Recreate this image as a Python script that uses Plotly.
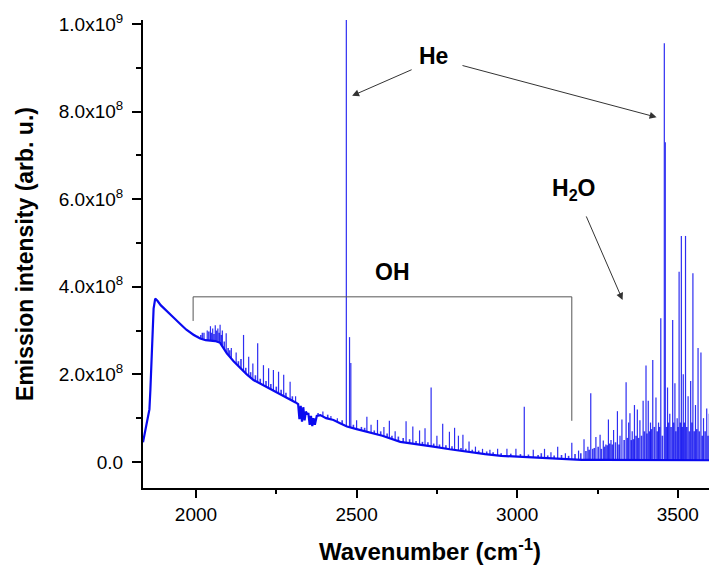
import plotly.graph_objects as go

# ---- continuum (baseline): wavenumber (cm-1), intensity (x1e8)
base_x = [1835, 1842, 1850, 1855, 1858, 1863, 1868, 1873, 1880, 1890, 1910, 1930, 1951,
          1970, 1993, 2013, 2030, 2044, 2060, 2075, 2085, 2096, 2117, 2138, 2158, 2179,
          2210, 2241, 2270, 2293, 2310, 2318, 2322, 2326, 2330, 2334, 2338, 2342, 2346,
          2350, 2354, 2358, 2362, 2366, 2370, 2376, 2387, 2405, 2428, 2450, 2470, 2500,
          2532, 2580, 2636, 2690, 2739, 2790, 2842, 2900, 2950, 3000, 3050, 3100, 3154,
          3200, 3258, 3320, 3400, 3500, 3600]
base_y = [0.45, 0.70, 0.95, 1.20, 1.65, 2.70, 3.50, 3.73, 3.68, 3.58, 3.45, 3.30, 3.15,
          3.02, 2.90, 2.82, 2.78, 2.77, 2.76, 2.72, 2.60, 2.48, 2.30, 2.14, 2.00, 1.87,
          1.75, 1.64, 1.52, 1.42, 1.36, 1.32, 0.98, 1.28, 0.92, 1.25, 0.95, 1.15, 1.10,
          1.10, 0.85, 1.05, 0.82, 1.00, 0.85, 1.05, 1.07, 1.00, 0.96, 0.88, 0.81, 0.75,
          0.69, 0.60, 0.46, 0.41, 0.35, 0.29, 0.235, 0.18, 0.14, 0.12, 0.10, 0.08, 0.06,
          0.05, 0.05, 0.05, 0.05, 0.04, 0.04]

# ---- emission lines: position (cm-1) and peak intensity (x1e8)
line_x = [2025, 2035, 2045, 2052, 2060, 2068, 2075, 2082, 2094, 2110, 2125, 2148, 2164,
          2177, 2192, 2210, 2226, 2241, 2257, 2273, 2293, 2310, 2395, 2420, 2440,
          2468, 2478, 2482, 2500, 2532, 2545, 2565, 2585, 2602, 2620, 2654, 2675, 2696,
          2713, 2732, 2750, 2768, 2789, 2805, 2817, 2831, 2850, 2870, 2892, 2915, 2939,
          2968, 2996, 3022, 3050, 3085, 3105, 3126, 3150, 3170, 3191, 3208, 3220, 3229,
          3245, 3258, 3268, 3276, 3284, 3292, 3300, 3312, 3320, 3326, 3339, 3347, 3351,
          3358, 3365, 3374, 3382, 3392, 3401, 3408, 3415, 3422, 3432, 3440, 3447, 3458,
          3461, 3468, 3475, 3484, 3491, 3498, 3504, 3511, 3517, 3524, 3532, 3540, 3547,
          3555, 3563, 3572, 3580, 3590, 3598]
line_y = [2.95, 3.00, 3.10, 3.05, 3.12, 3.05, 3.13, 3.00, 2.94, 2.60, 2.50, 2.90, 2.40,
          2.25, 2.71, 2.21, 2.14, 2.10, 2.06, 1.99, 1.83, 1.50, 1.15, 1.05, 1.00,
          10.30, 2.85, 2.26, 0.95, 1.03, 0.85, 0.96, 0.80, 0.94, 0.70, 0.93, 0.81, 0.72,
          0.77, 1.70, 0.60, 0.87, 0.69, 0.78, 0.60, 0.62, 0.47, 0.35, 0.30, 0.28, 0.30,
          0.30, 0.30, 1.26, 0.28, 0.30, 0.22, 0.35, 0.20, 0.44, 0.26, 0.52, 0.35, 1.57,
          0.57, 0.62, 0.49, 0.40, 0.97, 0.50, 0.73, 1.16, 0.60, 0.97, 1.82, 0.90, 1.11,
          0.70, 1.30, 1.20, 0.95, 1.40, 2.20, 1.40, 0.90, 2.33, 1.47, 0.90, 3.28, 9.56,
          7.30, 1.70, 1.10, 3.24, 1.80, 1.00, 4.34, 5.16, 2.00, 5.16, 1.50, 1.85, 4.31,
          1.30, 2.60, 2.50, 1.00, 1.22, 1.10]

# ---- weaker lines ("grass") on the continuum: position (cm-1), peak (x1e8)
weak_x = [1995, 2005, 2015, 2020, 2040, 2048, 2056, 2064, 2072, 2079, 2088, 2100, 2105,
          2132, 2140, 2155, 2170, 2185, 2200, 2218, 2233, 2250, 2265, 2280, 2300, 2380,
          2410, 2455, 2490, 2515, 2525, 2555, 2575, 2595, 2610, 2630, 2645, 2665, 2685,
          2705, 2722, 2740, 2758, 2778, 2797, 2825, 2840, 2860, 2880, 2905, 2925, 2950,
          2980, 3010, 3035, 3065, 3075, 3095, 3115, 3138, 3160, 3180, 3198, 3214, 3224,
          3235, 3240, 3252, 3262, 3272, 3280, 3288, 3296, 3306, 3317, 3333, 3343, 3355,
          3362, 3370, 3378, 3387, 3396, 3404, 3412, 3418, 3427, 3436, 3443, 3452, 3465,
          3471, 3479, 3487, 3494, 3501, 3508, 3514, 3520, 3528, 3536, 3544, 3551, 3559,
          3567, 3576, 3585, 3594]
weak_y = [2.92, 2.88, 2.90, 2.95, 2.98, 2.95, 2.92, 3.00, 2.95, 2.90, 2.75, 2.60, 2.55,
          2.30, 2.35, 2.15, 2.05, 1.98, 1.90, 1.85, 1.78, 1.72, 1.65, 1.58, 1.50, 1.12,
          1.08, 0.95, 0.85, 0.80, 0.78, 0.72, 0.70, 0.65, 0.60, 0.58, 0.55, 0.52, 0.48,
          0.46, 0.45, 0.42, 0.40, 0.38, 0.36, 0.32, 0.30, 0.28, 0.26, 0.24, 0.22, 0.20,
          0.19, 0.18, 0.17, 0.16, 0.20, 0.15, 0.15, 0.16, 0.14, 0.18, 0.20, 0.25, 0.28,
          0.30, 0.32, 0.35, 0.30, 0.35, 0.38, 0.42, 0.40, 0.45, 0.40, 0.50, 0.55, 0.50,
          0.52, 0.60, 0.55, 0.60, 0.70, 0.65, 0.70, 0.75, 0.80, 0.70, 0.80, 0.60, 0.80,
          0.90, 0.80, 0.90, 0.70, 0.80, 0.90, 0.80, 0.90, 0.80, 0.70, 0.90, 0.70, 0.75,
          0.70, 0.60, 0.70, 0.60]

SCALE = 1e8
y_tick_vals = [0, 2e8, 4e8, 6e8, 8e8, 1e9]
y_tick_text = ["0.0", "2.0x10<sup>8</sup>", "4.0x10<sup>8</sup>", "6.0x10<sup>8</sup>",
               "8.0x10<sup>8</sup>", "1.0x10<sup>9</sup>"]
y_minor_vals = [1e8, 3e8, 5e8, 7e8, 9e8]
x_tick_vals = [2000, 2500, 3000, 3500]
x_minor_vals = [2250, 2750, 3250]

BLUE = "#0a0af0"


def sticks(xs, ys):
    px, py = [], []
    for xv, yv in zip(xs, ys):
        px += [xv, xv, None]
        py += [0, yv * SCALE, None]
    return px, py


fig = go.Figure()
wx, wy = sticks(weak_x, weak_y)
fig.add_trace(go.Scatter(x=wx, y=wy, mode="lines", line=dict(color=BLUE, width=1.6),
                         opacity=0.8, hoverinfo="skip", showlegend=False))
sx, sy = sticks(line_x, line_y)
fig.add_trace(go.Scatter(x=sx, y=sy, mode="lines", line=dict(color=BLUE, width=1.2),
                         opacity=0.85, hoverinfo="skip", showlegend=False))
# continuum, filled white below so the sticks only show above it
fig.add_trace(go.Scatter(x=base_x, y=[v * SCALE for v in base_y], mode="lines",
                         line=dict(color=BLUE, width=2.2), fill="tozeroy",
                         fillcolor="white", showlegend=False))

FONT = "Arial, Liberation Sans, sans-serif"
# the page body adds an 8 px offset on the left and top
fig.update_layout(
    width=709, height=557,
    margin=dict(l=135, r=0, t=12, b=77),
    paper_bgcolor="white", plot_bgcolor="white",
    font=dict(family=FONT, color="black", size=19),
    showlegend=False,
    xaxis=dict(range=[1835, 3622], showgrid=False, zeroline=False, automargin=False,
               showline=True, linecolor="black", linewidth=2,
               ticks="outside", ticklen=8, tickwidth=2, tickcolor="black",
               tickmode="array", tickvals=x_tick_vals,
               ticktext=[str(v) for v in x_tick_vals],
               minor=dict(tickmode="array", tickvals=x_minor_vals, ticks="outside",
                          ticklen=4, tickwidth=2, tickcolor="black"),
               tickfont=dict(size=19),
               title=dict(text="<b>Wavenumber (cm<sup>-1</sup>)</b>",
                          font=dict(size=24), standoff=19)),
    yaxis=dict(range=[-0.594e8, 1.009e9], showgrid=False, zeroline=False, automargin=False,
               showline=True, linecolor="black", linewidth=2,
               ticks="outside", ticklen=9, tickwidth=2, tickcolor="black",
               ticklabelstandoff=5,
               tickmode="array", tickvals=y_tick_vals, ticktext=y_tick_text,
               minor=dict(tickmode="array", tickvals=y_minor_vals, ticks="outside",
                          ticklen=5, tickwidth=2, tickcolor="black"),
               tickfont=dict(size=19),
               title=dict(text="<b>Emission intensity (arb. u.)</b>",
                          font=dict(size=23), standoff=19)),
)

ARROW = "#333333"


def arrow(x, y, ax, ay):
    fig.add_annotation(x=x, y=y, ax=ax, ay=ay, xref="x", yref="y", axref="x", ayref="y",
                       text="", showarrow=True, arrowhead=2, arrowsize=1.4,
                       arrowwidth=1, arrowcolor=ARROW)


arrow(2486, 0.836e9, 2676, 0.897e9)
arrow(3434, 0.787e9, 2825, 0.906e9)
arrow(3328, 0.37e9, 3213, 0.564e9)

for txt, xv, yv in [("He", 2738, 0.927e9), ("H<sub>2</sub>O", 3175, 0.622e9),
                    ("OH", 2611, 0.434e9)]:
    fig.add_annotation(x=xv, y=yv, xref="x", yref="y", text="<b>" + txt + "</b>",
                       showarrow=False, font=dict(size=23, family=FONT, color="black"))

# OH bracket
BR = "#555555"
fig.add_shape(type="line", x0=1991, x1=3170, y0=0.377e9, y1=0.377e9, xref="x", yref="y",
              line=dict(color=BR, width=1))
fig.add_shape(type="line", x0=1991, x1=1991, y0=0.377e9, y1=0.322e9, xref="x", yref="y",
              line=dict(color=BR, width=1))
fig.add_shape(type="line", x0=3170, x1=3170, y0=0.377e9, y1=0.094e9, xref="x", yref="y",
              line=dict(color=BR, width=1))

fig.write_html("out.html")
